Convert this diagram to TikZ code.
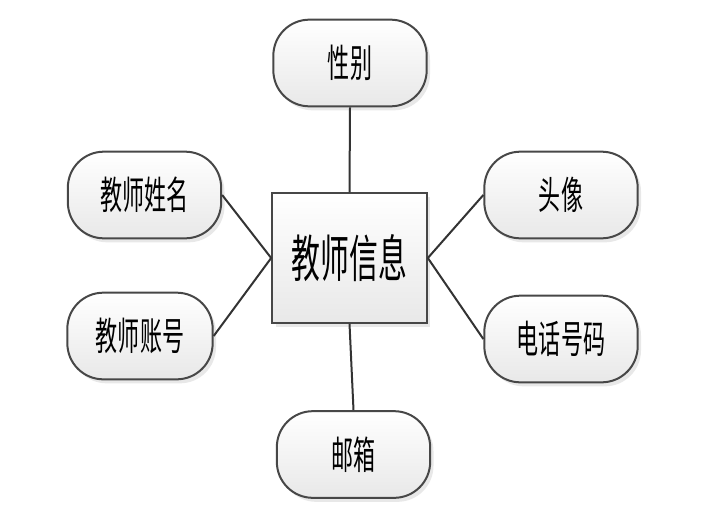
\documentclass[tikz,border=0pt]{standalone}
\usepackage{fontspec}
\newfontfamily\cjk[FakeStretch=0.57]{Noto Sans CJK SC}
\usetikzlibrary{shadows}

\begin{document}
\begin{tikzpicture}[x=0.75pt,y=-0.75pt]
			\tikzset{attr/.style = {shape=rectangle,draw=black!72,line width=1.5pt,
					rounded corners=27pt,top color=white,bottom color=black!9,
					minimum width=115pt,minimum height=65pt,
					font=\cjk\fontsize{29}{32}\selectfont,
					drop shadow={opacity=0.18,shadow xshift=2.5pt,shadow yshift=-3pt}}}
			\tikzset{entity/.style = {attr,rounded corners=0pt,
					minimum width=116pt,minimum height=97pt,
					font=\cjk\fontsize{38}{41}\selectfont}}
			\tikzset{edge/.style = {draw=black!80,line width=1.5pt}}
			\useasboundingbox (0,0) rectangle (702,518);
			% vertices
			\node[entity] (info) at (349.5,258) {教师信息};
			\node[attr] (sex) at (350,63) {性别};
			\node[attr] (name) at (144.5,195) {教师姓名};
			\node[attr,minimum width=109pt] (acct) at (140,336) {教师账号};
			\node[attr] (photo) at (561,195) {头像};
			\node[attr] (phone) at (561,339) {电话号码};
			\node[attr] (mail) at (353.5,454.5) {邮箱};
			
			%edges
			\draw[edge] (sex.south) to (info.north);
			\draw[edge] (name.east) to (info.west);
			\draw[edge] (acct.east) to (info.west);
			\draw[edge] (photo.west) to (info.east);
			\draw[edge] (phone.west) to (info.east);
			\draw[edge] (mail.north) to (info.south);
\end{tikzpicture}
\end{document}
